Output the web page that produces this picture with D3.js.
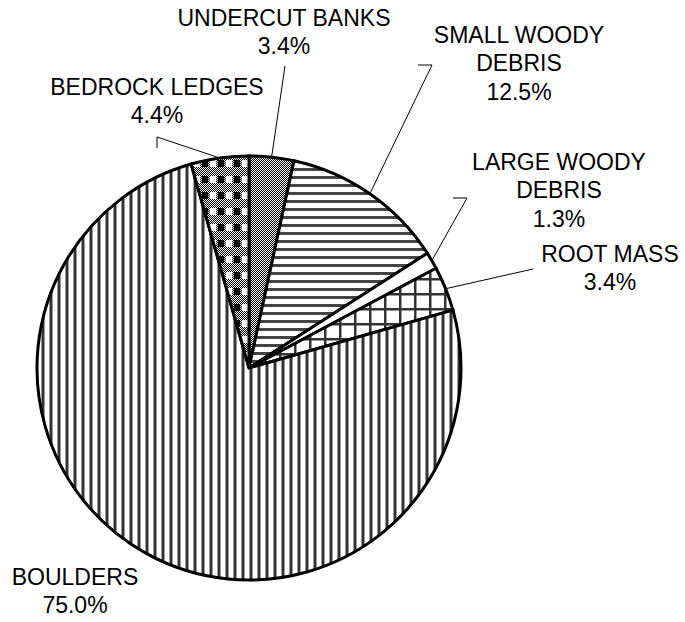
<!DOCTYPE html>
<html>
<head>
<meta charset="utf-8">
<script src="https://cdn.jsdelivr.net/npm/d3@7"></script>
<style>
  html, body { margin: 0; padding: 0; background: #fff; }
  svg { display: block; }
  text { font-family: "Liberation Sans", Arial, sans-serif; font-size: 23px; fill: #000; }
</style>
</head>
<body>
<svg id="chart" width="685" height="622"></svg>
<script>
// Instream habitat cover types, share of total (%)
const categories = ["UNDERCUT BANKS", "SMALL WOODY DEBRIS", "LARGE WOODY DEBRIS", "ROOT MASS", "BOULDERS", "BEDROCK LEDGES"];
const values = [3.4, 12.5, 1.3, 3.4, 75.0, 4.4];
const valueLabels = ["3.4%", "12.5%", "1.3%", "3.4%", "75.0%", "4.4%"];
// How each category name wraps onto lines
const nameLines = [["UNDERCUT BANKS"], ["SMALL WOODY", "DEBRIS"], ["LARGE WOODY", "DEBRIS"], ["ROOT MASS"], ["BOULDERS"], ["BEDROCK LEDGES"]];

// Layout
const W = 685, H = 622;
const cx = 249, cy = 368, R = 212;
const lineStep = 28.3;
// label anchor (centre x, first baseline y) and leader line elbows
const labelLayout = [
  { x: 284, y: 26, leader: [[285, 66]] },
  { x: 519, y: 43, leader: [[432, 65], [418, 65]] },
  { x: 559, y: 170, leader: [[467, 198], [453, 198]] },
  { x: 610, y: 262, leader: [[533, 269]] },
  { x: 75, y: 585, leader: null },
  { x: 157, y: 95, leader: [[157, 137], [157, 148]] }
];

const svg = d3.select("#chart");
const defs = svg.append("defs");

// Fill patterns
function pattern(id, w, h) {
  return defs.append("pattern").attr("id", id).attr("patternUnits", "userSpaceOnUse")
    .attr("width", w).attr("height", h);
}
function checker(p, w, h) {
  p.append("rect").attr("width", w).attr("height", h).attr("fill", "#fff");
  for (let y = 0; y < h; y++) for (let x = (y % 2); x < w; x += 2)
    p.append("rect").attr("x", x).attr("y", y).attr("width", 1).attr("height", 1).attr("fill", "#000");
}

// undercut banks: fine dither
checker(pattern("pUndercut", 8, 8), 8, 8);

// small woody debris: horizontal lines
{
  const p = pattern("pSmall", 8, 8);
  p.append("rect").attr("width", 8).attr("height", 8).attr("fill", "#fff");
  p.append("rect").attr("y", 0).attr("width", 8).attr("height", 3).attr("fill", "#444");
}

// large woody debris: plain
{
  const p = pattern("pLarge", 8, 8);
  p.append("rect").attr("width", 8).attr("height", 8).attr("fill", "#fff");
}

// root mass: square grid
{
  const p = pattern("pRoot", 15, 15);
  p.append("rect").attr("width", 15).attr("height", 15).attr("fill", "#fff");
  p.append("rect").attr("x", 0).attr("width", 2.5).attr("height", 15).attr("fill", "#333");
  p.append("rect").attr("y", 0).attr("width", 15).attr("height", 2.5).attr("fill", "#333");
}

// boulders: vertical lines
{
  const p = pattern("pBoulders", 8, 8);
  p.append("rect").attr("width", 8).attr("height", 8).attr("fill", "#fff");
  p.append("rect").attr("x", 0).attr("width", 1).attr("height", 8).attr("fill", "#999");
  p.append("rect").attr("x", 1).attr("width", 2).attr("height", 8).attr("fill", "#333");
  p.append("rect").attr("x", 3).attr("width", 1).attr("height", 8).attr("fill", "#999");
}

// bedrock ledges: dithered ground with black and white blocks
{
  const p = pattern("pBedrock", 16, 16);
  checker(p, 16, 16);
  p.append("rect").attr("x", 1).attr("y", 0).attr("width", 6).attr("height", 7).attr("fill", "#000");
  p.append("rect").attr("x", 9).attr("y", 0).attr("width", 6).attr("height", 7).attr("fill", "#fff");
}

const fills = ["url(#pUndercut)", "url(#pSmall)", "url(#pLarge)", "url(#pRoot)", "url(#pBoulders)", "url(#pBedrock)"];

const data = categories.map((c, i) => ({ name: c, value: values[i], i }));
const pie = d3.pie().sort(null).value(d => d.value).startAngle(0).endAngle(2 * Math.PI);
const arcs = pie(data);
const arc = d3.arc().innerRadius(0).outerRadius(R);

const g = svg.append("g").attr("transform", `translate(${cx},${cy})`);
g.selectAll("path.slice").data(arcs).join("path")
  .attr("class", "slice")
  .attr("d", arc)
  .attr("fill", d => fills[d.data.i])
  .attr("stroke", "#000")
  .attr("stroke-width", 3)
  .attr("stroke-linejoin", "miter");

// leader lines from slice rim to the label elbow
const line = d3.line();
arcs.forEach(a => {
  const L = labelLayout[a.data.i];
  if (!L.leader) return;
  const mid = (a.startAngle + a.endAngle) / 2;
  const rim = [cx + R * Math.sin(mid), cy - R * Math.cos(mid)];
  const pts = [rim].concat(L.leader);
  svg.append("path").attr("d", line(pts)).attr("fill", "none")
    .attr("stroke", "#000").attr("stroke-width", 1);
});

// labels
data.forEach((d, i) => {
  const L = labelLayout[i];
  const t = svg.append("text").attr("text-anchor", "middle");
  const lines = nameLines[i].concat([valueLabels[i]]);
  lines.forEach((s, k) => {
    t.append("tspan").attr("x", L.x).attr("y", L.y + k * lineStep).text(s);
  });
});
</script>
</body>
</html>
